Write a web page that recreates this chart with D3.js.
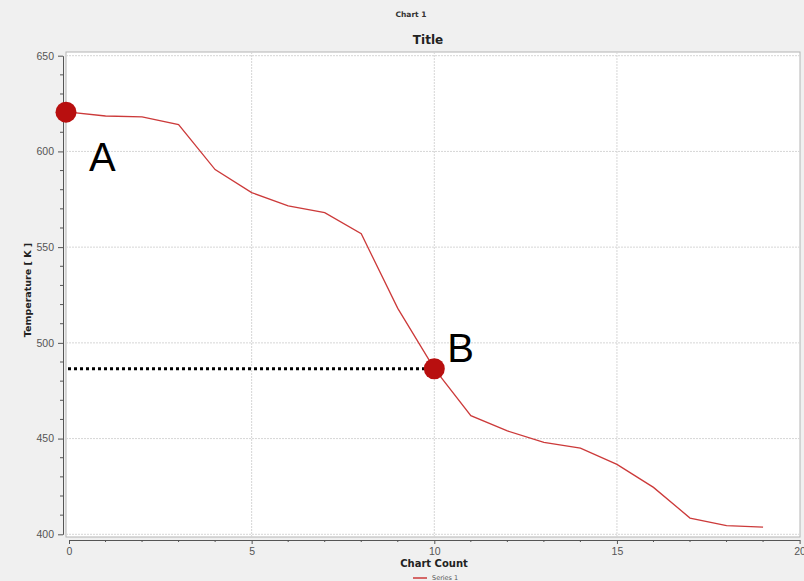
<!DOCTYPE html>
<html>
<head>
<meta charset="utf-8">
<script src="https://cdn.jsdelivr.net/npm/d3@7"></script>
<style>
  body { margin: 0; background: #f0f0f0; }
  svg { display: block; font-family: "DejaVu Sans", sans-serif; }
</style>
</head>
<body>
<div id="viz"></div>
<script>
const width = 804;
const height = 581;

// Series 1 values
const counts = d3.range(0, 20);
const temperatures = [620.5, 618.5, 618, 614, 590.5, 578.5, 571.5, 568, 557, 518, 486.5, 462, 454, 448, 445, 436.5, 424.5, 408.5, 404.5, 403.8];
const xTicks = [0, 5, 10, 15, 20];
const yTicks = [400, 450, 500, 550, 600, 650];
// Annotated points
const marks = [
  { label: 'A', count: 0, temp: 620.5 },
  { label: 'B', count: 10, temp: 486.5 }
];

const plot = { left: 66, top: 52, right: 800, bottom: 537 };

const x = d3.scaleLinear().domain([0, 20]).range([69, 799.6]);
const y = d3.scaleLinear().domain([400, 650]).range([534.3, 55.7]);

const svg = d3.select('#viz')
  .append('svg')
    .attr('width', width)
    .attr('height', height);

svg.append('rect')
  .attr('width', width)
  .attr('height', height)
  .attr('fill', '#f0f0f0');

// Header texts
svg.append('text')
  .attr('x', 411).attr('y', 17)
  .attr('text-anchor', 'middle')
  .style('font-size', '7.5px')
  .style('font-weight', 700)
  .attr('fill', '#333')
  .text('Chart 1');
svg.append('text')
  .attr('x', 428).attr('y', 44)
  .attr('text-anchor', 'middle')
  .style('font-size', '12px')
  .style('font-weight', 700)
  .attr('fill', '#222')
  .text('Title');

// Plot area
svg.append('rect')
  .attr('x', plot.left).attr('y', plot.top)
  .attr('width', plot.right - plot.left)
  .attr('height', plot.bottom - plot.top)
  .attr('fill', '#ffffff')
  .attr('stroke', '#b4b4b4');

// Grid lines
const grid = svg.append('g')
  .attr('stroke', '#d6d6d6')
  .attr('stroke-dasharray', '2 1');
grid.selectAll('line.gx')
  .data(xTicks.filter(d => d > 0 && d < 20))
  .join('line')
    .attr('class', 'gx')
    .attr('x1', d => x(d)).attr('x2', d => x(d))
    .attr('y1', plot.top).attr('y2', plot.bottom);
grid.selectAll('line.gy')
  .data(yTicks)
  .join('line')
    .attr('class', 'gy')
    .attr('x1', plot.left).attr('x2', plot.right)
    .attr('y1', d => y(d)).attr('y2', d => y(d));

// Y axis
const axisLeft = d3.axisLeft(y)
  .tickValues(yTicks)
  .tickSize(5)
  .tickPadding(4)
  .tickSizeOuter(0);
const yAxis = svg.append('g')
  .attr('transform', 'translate(63,0)')
  .call(axisLeft);
yAxis.append('g')
  .selectAll('line')
  .data(d3.range(400, 651, 10).filter(d => d % 50 !== 0))
  .join('line')
    .attr('x1', -3).attr('x2', 0)
    .attr('y1', d => y(d)).attr('y2', d => y(d))
    .attr('stroke', '#555');
yAxis.select('.domain').attr('stroke', '#555');
yAxis.selectAll('.tick line').attr('stroke', '#555');
yAxis.selectAll('text')
  .style('font-size', '10.5px')
  .attr('fill', '#555');

svg.append('text')
  .attr('transform', 'translate(31,290) rotate(-90)')
  .attr('text-anchor', 'middle')
  .style('font-size', '9.5px')
  .style('font-weight', 700)
  .attr('fill', '#222')
  .text('Temperature [ K ]');

// X axis
const axisBottom = d3.axisBottom(x)
  .tickValues(xTicks)
  .tickSize(4)
  .tickPadding(4)
  .tickSizeOuter(0);
const xAxis = svg.append('g')
  .attr('transform', 'translate(0,540)')
  .call(axisBottom);
xAxis.append('g')
  .selectAll('line')
  .data(counts.filter(d => d % 5 !== 0))
  .join('line')
    .attr('x1', d => x(d)).attr('x2', d => x(d))
    .attr('y1', 0).attr('y2', 2)
    .attr('stroke', '#555');
xAxis.select('.domain').attr('stroke', '#555');
xAxis.selectAll('.tick line').attr('stroke', '#555');
xAxis.selectAll('text')
  .style('font-size', '10.5px')
  .attr('fill', '#555');

svg.append('text')
  .attr('x', 434).attr('y', 567)
  .attr('text-anchor', 'middle')
  .style('font-size', '10px')
  .style('font-weight', 700)
  .attr('fill', '#222')
  .text('Chart Count');

// Legend
svg.append('line')
  .attr('x1', 413).attr('x2', 427)
  .attr('y1', 578).attr('y2', 578)
  .attr('stroke', '#cc3a3a')
  .attr('stroke-width', 1.5);
svg.append('text')
  .attr('x', 432).attr('y', 580)
  .style('font-size', '6.5px')
  .attr('fill', '#555')
  .text('Series 1');

// Series line
const line = d3.line()
  .x((d, i) => x(counts[i]))
  .y(d => y(d));
svg.append('path')
  .datum(temperatures)
  .attr('d', line)
  .attr('fill', 'none')
  .attr('stroke', '#cc3a3a')
  .attr('stroke-width', 1.3);

// Dotted guide to B
const markB = marks[1];
svg.append('line')
  .attr('x1', 68).attr('x2', x(markB.count) - 8)
  .attr('y1', y(markB.temp)).attr('y2', y(markB.temp))
  .attr('stroke', '#000')
  .attr('stroke-width', 3)
  .attr('stroke-dasharray', '3 3');

// Markers and labels
svg.selectAll('circle.mark')
  .data(marks)
  .join('circle')
    .attr('class', 'mark')
    .attr('cx', d => x(d.count) - (d.count === 0 ? 3 : 0))
    .attr('cy', d => y(d.temp))
    .attr('r', 10.5)
    .attr('fill', '#b80f0f');
svg.selectAll('text.mark-label')
  .data(marks)
  .join('text')
    .attr('class', 'mark-label')
    .attr('x', d => x(d.count) + (d.count === 0 ? 20 : 13))
    .attr('y', d => y(d.temp) + (d.count === 0 ? 59 : -7))
    .style('font-family', '"Liberation Sans", Arial, sans-serif')
    .style('font-size', '40px')
    .attr('fill', '#000')
    .text(d => d.label);
</script>
</body>
</html>
